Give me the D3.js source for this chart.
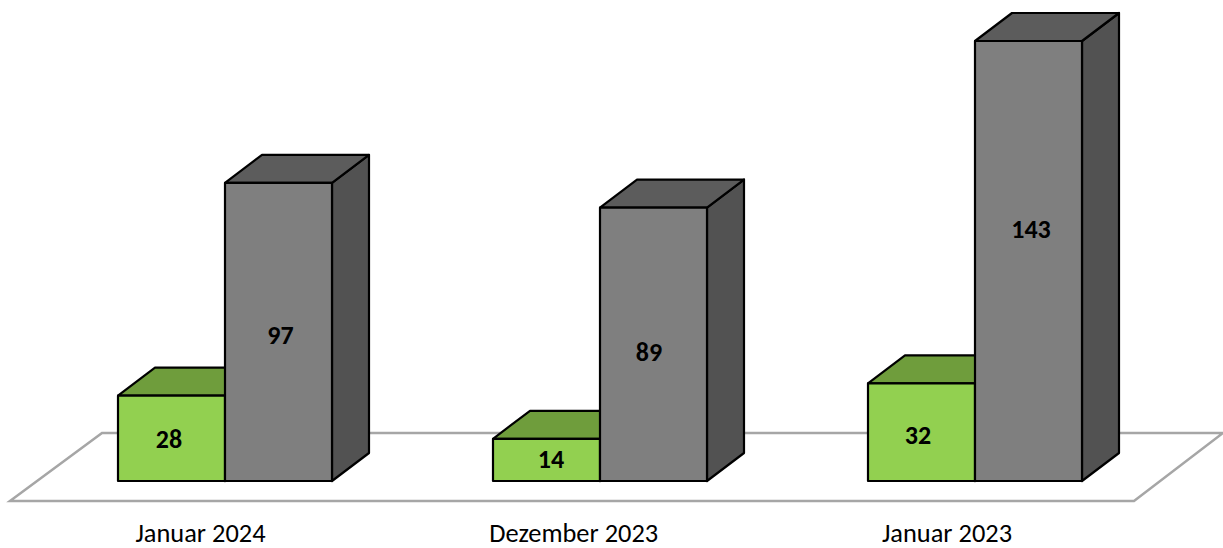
<!DOCTYPE html>
<html>
<head>
<meta charset="utf-8">
<script src="https://cdn.jsdelivr.net/npm/d3@7"></script>
<style>
html, body { margin: 0; padding: 0; background: #fff; }
svg { display: block; }
text { font-family: Carlito, "Open Sans", "Noto Sans", sans-serif; fill: #000; }
</style>
</head>
<body>
<div id="chart"></div>
<script>
const categories = ['Januar 2024', 'Dezember 2023', 'Januar 2023'];
const greenValues = [28, 14, 32];
const greyValues = [97, 89, 143];

const width = 1223, height = 548;
const baseY = 481;
const barWidth = 107;
const depthX = 37, depthY = 28;

const svg = d3.select('#chart').append('svg')
    .attr('width', width)
    .attr('height', height);

// one band per month, each holds the green + grey bar pair
const x = d3.scaleBand().domain(categories).range([118, 118 + 3 * 375]);
const y = d3.scaleLinear().domain([0, 143]).range([baseY + 1, 41]);

// floor of the chart
svg.append('path')
    .attr('d', d3.line()([[102, 433], [1223, 433], [1134, 501], [10, 501]]) + 'Z')
    .attr('fill', 'none')
    .attr('stroke', '#a6a6a6')
    .attr('stroke-width', 2.5);

function drawBar(g, left, value, colors, labelDx, labelDy) {
    const top = y(value), right = left + barWidth;
    const line = d3.line();
    g.append('path')
        .attr('d', line([[right, top], [right + depthX, top - depthY], [right + depthX, baseY - depthY], [right, baseY]]) + 'Z')
        .attr('fill', colors.side);
    g.append('path')
        .attr('d', line([[left, top], [left + depthX, top - depthY], [right + depthX, top - depthY], [right, top]]) + 'Z')
        .attr('fill', colors.top);
    g.append('rect')
        .attr('x', left).attr('y', top)
        .attr('width', barWidth).attr('height', baseY - top)
        .attr('fill', colors.front);
    g.selectAll('path,rect')
        .attr('stroke', '#000')
        .attr('stroke-width', 2.2)
        .attr('stroke-linejoin', 'round');
    g.append('text')
        .attr('x', left + barWidth / 2 + labelDx)
        .attr('y', (top + baseY) / 2 + labelDy + 8.5)
        .attr('text-anchor', 'middle')
        .attr('font-size', 26)
        .attr('font-weight', 700)
        .text(value);
}

const green = {front: '#92d050', top: '#6f9d3c', side: '#6f9d3c'};
const grey = {front: '#7f7f7f', top: '#5c5c5c', side: '#525252'};

// hand placed value labels, they are not centred in the original
const greenNudge = [[-2.5, 1], [4.5, 0], [-3.5, 3]];
const greyNudge = [[2, 4], [-4.5, 8.5], [2.5, -32]];

categories.forEach((c, i) => {
    const left = x(c);
    drawBar(svg.append('g'), left, greenValues[i], green, greenNudge[i][0], greenNudge[i][1]);
    drawBar(svg.append('g'), left + barWidth, greyValues[i], grey, greyNudge[i][0], greyNudge[i][1]);
    svg.append('text')
        .attr('x', left + 82.5 - i * 1.75)
        .attr('y', 542)
        .attr('text-anchor', 'middle')
        .attr('font-size', 26.4)
        .text(c);
});
</script>
</body>
</html>
